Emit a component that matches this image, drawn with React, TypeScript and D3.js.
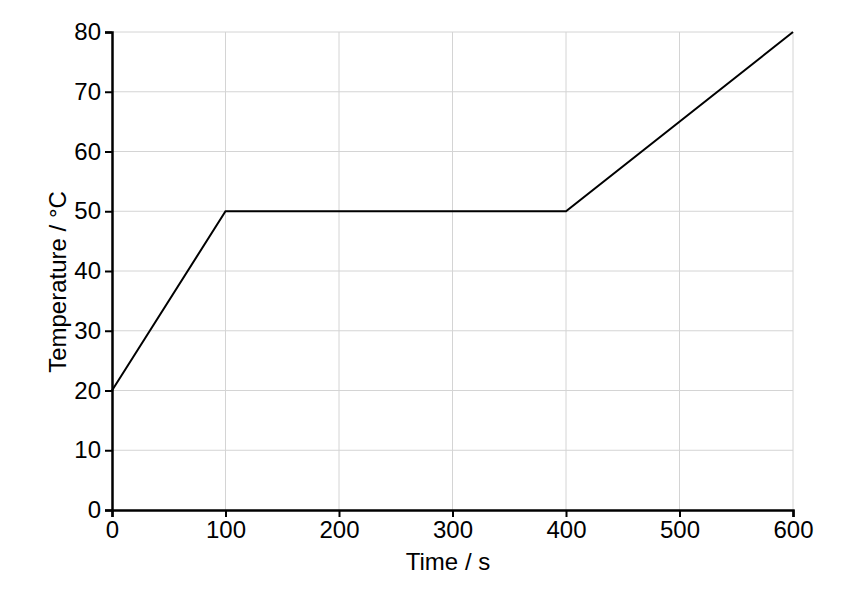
import * as d3 from "d3";
import { useEffect, useRef } from "react";

// readings
const times: number[] = [0, 100, 400, 600];
const temps: number[] = [20, 50, 50, 80];
const xTicks: number[] = [0, 100, 200, 300, 400, 500, 600];
const yTicks: number[] = [0, 10, 20, 30, 40, 50, 60, 70, 80];

export default function App() {
  const width = 854;
  const height = 592;
  const marginTop = 32;
  const marginRight = 61;
  const marginBottom = 82;
  const marginLeft = 112;
  const font = "Liberation Sans, Arial, sans-serif";

  const svgRef = useRef<SVGSVGElement>(null);

  useEffect(() => {
    const svgEl = d3.select(svgRef.current);
    svgEl.selectAll("*").remove();

    const xScale = d3.scaleLinear([0, 600], [marginLeft, width - marginRight]);
    const yScale = d3.scaleLinear([0, 80], [height - marginBottom, marginTop]);

    // grid
    const grid = svgEl.append("g").attr("stroke", "#d4d4d4").attr("stroke-width", 1);
    grid.selectAll("line.v")
      .data(xTicks.slice(1))
      .join("line")
      .attr("x1", d => xScale(d))
      .attr("x2", d => xScale(d))
      .attr("y1", marginTop)
      .attr("y2", height - marginBottom);
    grid.selectAll("line.h")
      .data(yTicks.slice(1))
      .join("line")
      .attr("x1", marginLeft)
      .attr("x2", width - marginRight)
      .attr("y1", d => yScale(d))
      .attr("y2", d => yScale(d));

    // the curve
    const line = d3.line<number>((d, i) => xScale(times[i]), d => yScale(d));
    svgEl.append("path")
      .attr("fill", "none")
      .attr("stroke", "#000")
      .attr("stroke-width", 2)
      .attr("d", line(temps));

    const xAxis = d3.axisBottom(xScale).tickValues(xTicks).tickSize(7).tickPadding(4).tickFormat(d3.format("d"));
    const yAxis = d3.axisLeft(yScale).tickValues(yTicks).tickSize(7).tickPadding(4).tickFormat(d3.format("d"));

    const gx = svgEl.append("g")
      .attr("transform", `translate(0, ${height - marginBottom})`)
      .call(xAxis);
    const gy = svgEl.append("g")
      .attr("transform", `translate(${marginLeft}, 0)`)
      .call(yAxis);

    for (const g of [gx, gy]) {
      g.select(".domain").attr("stroke", "#000").attr("stroke-width", 2.5);
      g.selectAll(".tick line").attr("stroke", "#000").attr("stroke-width", 2);
      g.selectAll("text")
        .attr("fill", "#000")
        .attr("font-size", 24)
        .attr("font-family", font);
    }

    // axis titles
    svgEl.append("text")
      .attr("x", 448)
      .attr("y", 570)
      .attr("text-anchor", "middle")
      .attr("font-size", 24)
      .attr("font-family", font)
      .text("Time / s");

    svgEl.append("text")
      .attr("transform", `translate(66, 282) rotate(-90)`)
      .attr("text-anchor", "middle")
      .attr("font-size", 24)
      .attr("font-family", font)
      .text("Temperature / °C");
  }, []);

  return (
    <div style={{ position: "absolute", left: 0, top: 0 }}>
      <svg
        ref={svgRef}
        width={width}
        height={height}
        style={{ display: "block", background: "#fff" }}
        xmlns="http://www.w3.org/2000/svg"
      >
      </svg>
    </div>
  );
}
